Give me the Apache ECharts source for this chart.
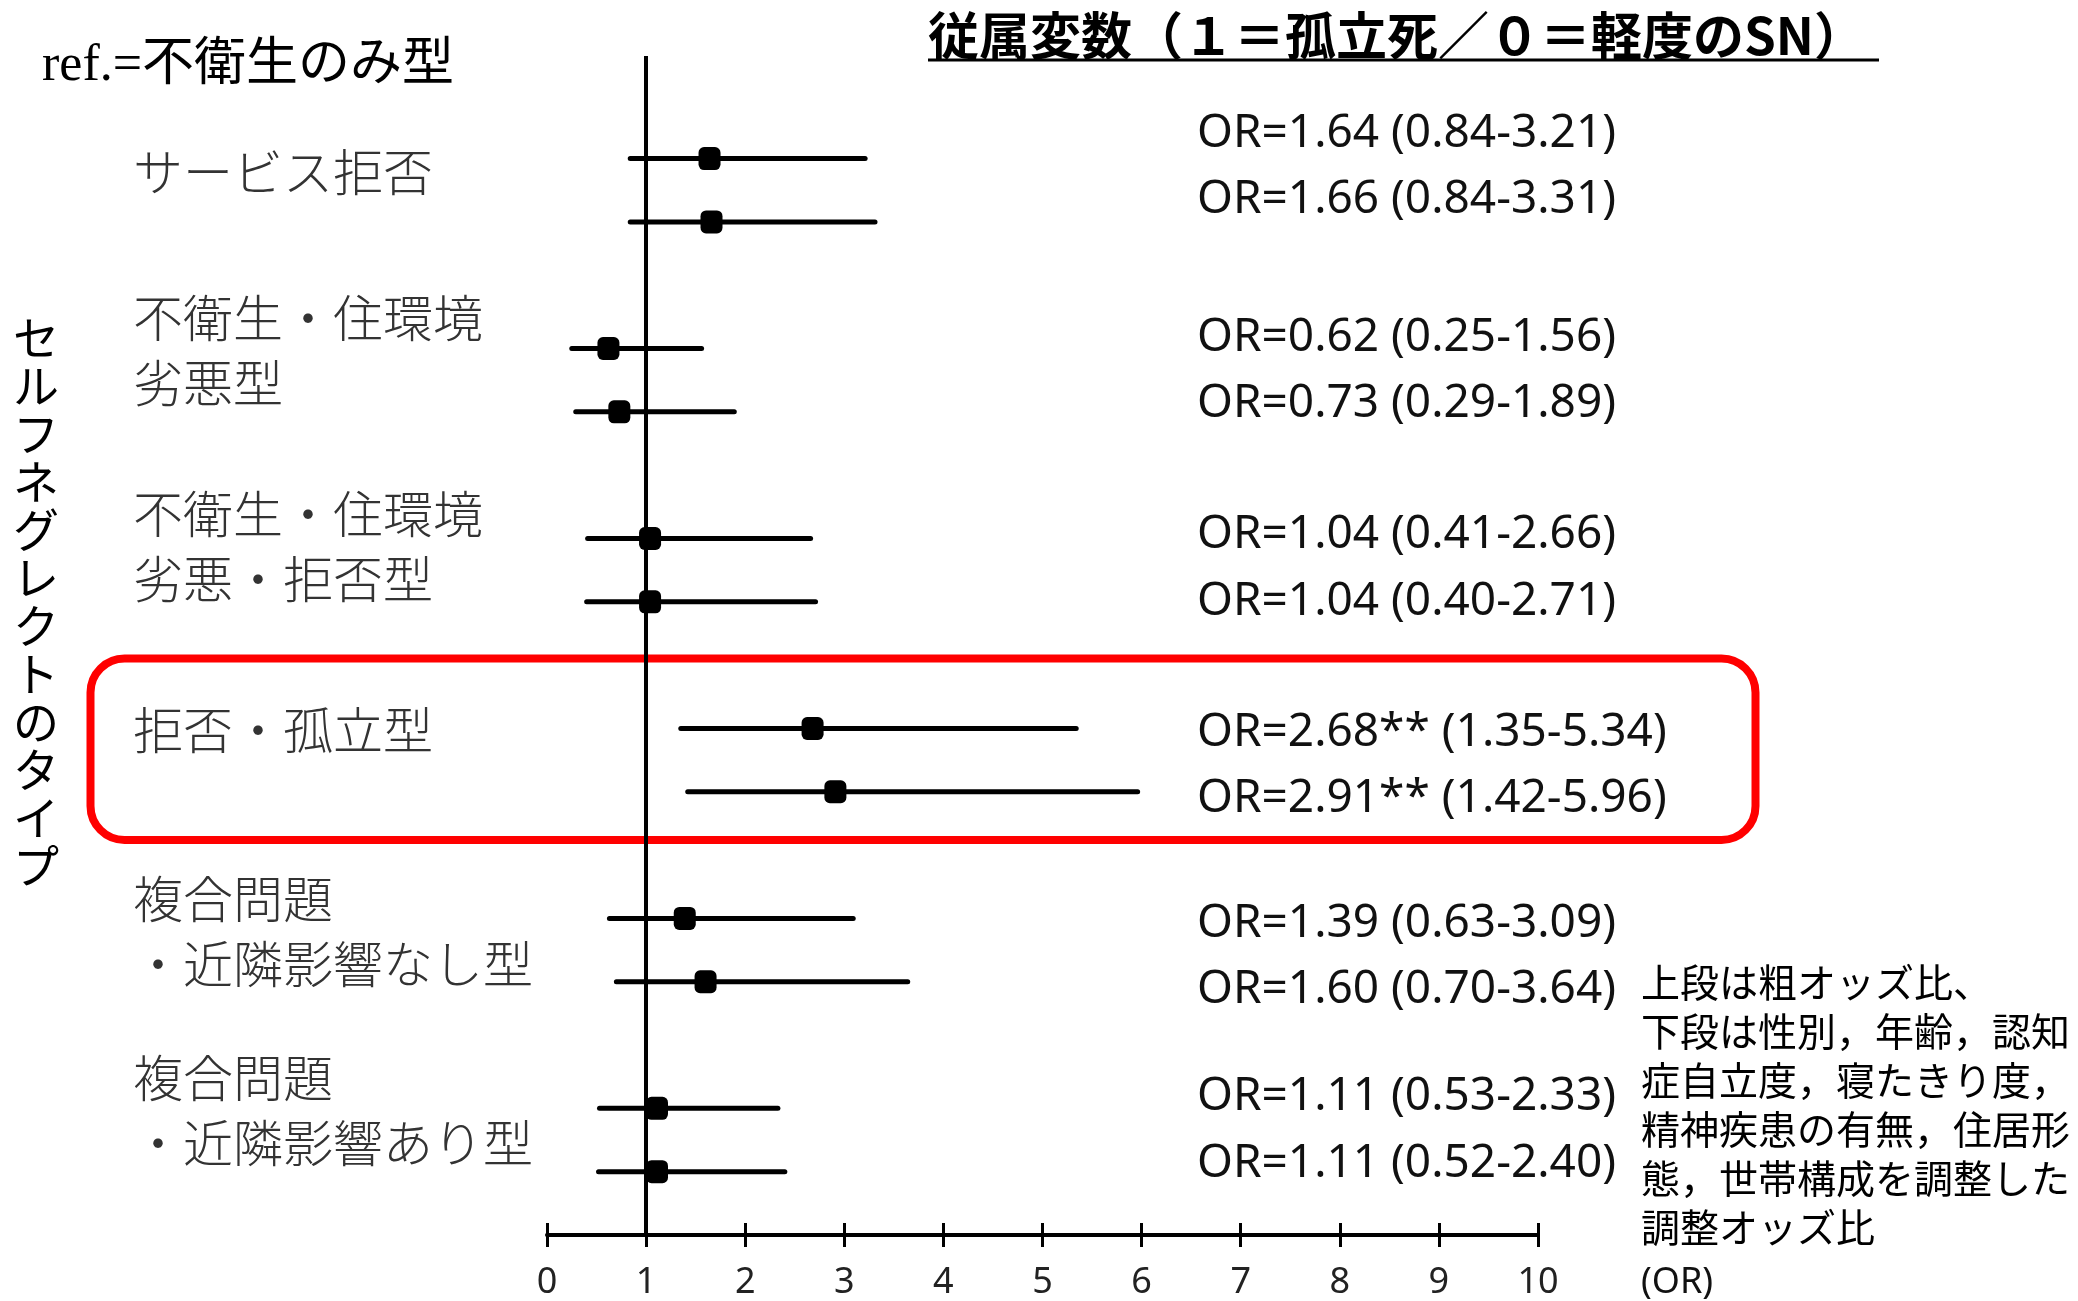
<!DOCTYPE html>
<html>
<head>
<meta charset="utf-8">
<script src="https://cdn.jsdelivr.net/npm/echarts@6/dist/echarts.min.js"></script>
<style>
  html, body { margin: 0; padding: 0; background: #fff; }
  #chart { width: 2078px; height: 1301px; }
</style>
</head>
<body>
<div id="chart"></div>
<script>
// セルフネグレクトのタイプ（ref.=不衛生のみ型）
const groups = [
  "サービス拒否",
  "不衛生・住環境\n劣悪型",
  "不衛生・住環境\n劣悪・拒否型",
  "拒否・孤立型",
  "複合問題\n・近隣影響なし型",
  "複合問題\n・近隣影響あり型"
];
// 上段：粗オッズ比
const crudeOR   = [1.64, 0.62, 1.04, 2.68, 1.39, 1.11];
const crudeLow  = [0.84, 0.25, 0.41, 1.35, 0.63, 0.53];
const crudeHigh = [3.21, 1.56, 2.66, 5.34, 3.09, 2.33];
// 下段：調整オッズ比
const adjOR   = [1.66, 0.73, 1.04, 2.91, 1.60, 1.11];
const adjLow  = [0.84, 0.29, 0.40, 1.42, 0.70, 0.52];
const adjHigh = [3.31, 1.89, 2.71, 5.96, 3.64, 2.40];
const signif  = ["", "", "", "**", "", ""];
const xTicks  = [0, 1, 2, 3, 4, 5, 6, 7, 8, 9, 10];

// layout (pixels) for free text
const groupLabelY = [172, 350, 546, 730, 931, 1110];
const orTextY = [134, 200, 338, 404, 535, 602, 733, 799, 924, 990, 1097, 1164];

const chart = echarts.init(document.getElementById("chart"));

// rows: crude then adjusted, slot = group*3 + k
let bars = [];
let points = [];
let orTexts = [];
for (let g = 0; g < groups.length; g++) {
  const rows = [
    [crudeOR[g], crudeLow[g], crudeHigh[g]],
    [adjOR[g], adjLow[g], adjHigh[g]]
  ];
  rows.forEach((r, k) => {
    const slot = g * 3 + k;
    bars.push([r[1], r[2], slot]);
    points.push([r[0], slot]);
    orTexts.push("OR=" + r[0].toFixed(2) + signif[g] + " (" + r[1].toFixed(2) + "-" + r[2].toFixed(2) + ")");
  });
}

const cjk = '"Noto Sans CJK JP", "Noto Sans", sans-serif';
const latin = '"Noto Sans", "Noto Sans CJK JP", sans-serif';

let graphics = [];
// ref text
graphics.push({
  type: "text", left: 42, top: 40, z: 10,
  style: { text: "ref.=不衛生のみ型", font: '52px "Liberation Serif", "Noto Sans CJK JP", serif', fill: "#000" }
});
// title + underline
graphics.push({
  type: "text", x: 928, y: 36, z: 10,
  style: { text: "従属変数（１＝孤立死／０＝軽度のSN）", font: "bold 51px " + cjk, fill: "#000", verticalAlign: "middle" }
});
graphics.push({
  type: "line", z: 10,
  shape: { x1: 928, y1: 60, x2: 1879, y2: 60 },
  style: { stroke: "#000", lineWidth: 3 }
});
// vertical axis title
graphics.push({
  type: "text", x: 36, y: 602, z: 10,
  style: {
    text: "セルフネグレクトのタイプ".split("").join("\n"),
    font: "46px " + cjk, fill: "#000", align: "center", verticalAlign: "middle", lineHeight: 48
  }
});
// group labels
groups.forEach((name, i) => {
  graphics.push({
    type: "text", x: 133, y: groupLabelY[i], z: 10,
    style: { text: name, font: "300 50px " + cjk, fill: "#333", verticalAlign: "middle", lineHeight: 65 }
  });
});
// OR texts
orTexts.forEach((t, i) => {
  graphics.push({
    type: "text", x: 1197, y: orTextY[i], z: 10,
    style: { text: t, font: "46px " + latin, fill: "#111", verticalAlign: "middle" }
  });
});
// note
graphics.push({
  type: "text", x: 1641, y: 1105, z: 10,
  style: {
    text: "上段は粗オッズ比、\n下段は性別，年齢，認知\n症自立度，寝たきり度，\n精神疾患の有無，住居形\n態，世帯構成を調整した\n調整オッズ比",
    font: "39px " + cjk, fill: "#000", verticalAlign: "middle", lineHeight: 49
  }
});
graphics.push({
  type: "text", x: 1641, y: 1283, z: 10,
  style: { text: "(OR)", font: "36px " + latin, fill: "#111", verticalAlign: "middle" }
});
// highlight box
graphics.push({
  type: "rect", z: 1,
  shape: { x: 90.5, y: 658.5, width: 1665, height: 181.5, r: 34 },
  style: { fill: "none", stroke: "#ff0000", lineWidth: 8 }
});

const option = {
  animation: false,
  backgroundColor: "#fff",
  grid: { left: 547, right: 540, top: 56, bottom: 63 },
  xAxis: [
    {
      type: "value", min: 0, max: 10, interval: 1, position: "bottom",
      axisLine: { onZero: false, lineStyle: { color: "#000", width: 4 } },
      axisTick: { show: true, length: 12, lineStyle: { color: "#000", width: 3 } },
      axisLabel: {
        margin: 30, fontSize: 36, color: "#222", fontFamily: latin,
        formatter: v => (xTicks.indexOf(v) >= 0 ? String(v) : "")
      },
      splitLine: { show: false }
    },
    {
      type: "value", min: 0, max: 10, interval: 1, position: "bottom",
      axisLine: { show: false, onZero: false },
      axisTick: { show: true, inside: true, length: 12, lineStyle: { color: "#000", width: 3 } },
      axisLabel: { show: false },
      splitLine: { show: false }
    }
  ],
  yAxis: { type: "value", inverse: true, min: -1.62, max: 17, show: false },
  graphic: graphics,
  series: [
    {
      type: "custom",
      data: bars,
      encode: { x: [0, 1], y: 2 },
      z: 3,
      renderItem: function (params, api) {
        const a = api.coord([api.value(0), api.value(2)]);
        const b = api.coord([api.value(1), api.value(2)]);
        return {
          type: "line",
          shape: { x1: a[0], y1: a[1], x2: b[0], y2: b[1] },
          style: { stroke: "#000", lineWidth: 5, lineCap: "round" }
        };
      },
      markLine: {
        silent: true,
        symbol: "none",
        label: { show: false },
        lineStyle: { color: "#000", width: 4, type: "solid" },
        data: [{ xAxis: 1 }]
      }
    },
    {
      type: "scatter",
      data: points,
      symbol: "roundRect",
      symbolSize: [22, 23],
      itemStyle: { color: "#000", opacity: 1 },
      z: 4
    }
  ]
};
chart.setOption(option);
</script>
</body>
</html>
